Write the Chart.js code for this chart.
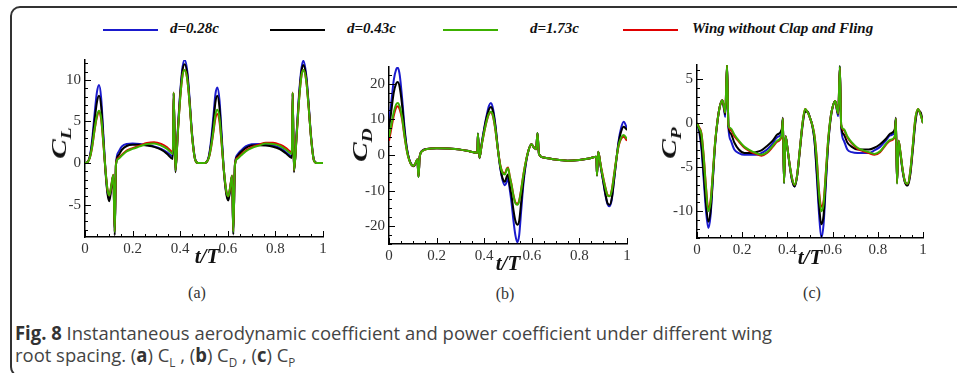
<!DOCTYPE html>
<html lang="en">
  <head>
    <meta charset="UTF-8" />
    <title>Fig. 8 CL CD CP</title>
    <script src="https://cdn.jsdelivr.net/npm/chart.js"></script>
    <style>
      body {
        margin: 0;
        background: #fff;
        width: 957px;
        height: 373px;
        overflow: hidden;
        position: relative;
        font-family: "Liberation Serif", serif;
      }
      .frame {
        position: absolute;
        left: 10px;
        top: 6px;
        width: 980px;
        height: 367px;
        border: 2px solid #333;
        border-radius: 10px;
      }
      .panel {
        position: absolute;
      }
      .leg-line {
        position: absolute;
        height: 2px;
        top: 29px;
      }
      .leg-text {
        position: absolute;
        top: 20px;
        font: italic bold 15px "Liberation Serif", serif;
        color: #111;
        white-space: nowrap;
      }
      .ytitle {
        position: absolute;
        font: italic bold 21px "Liberation Serif", serif;
        color: #111;
        white-space: nowrap;
        transform: translate(-50%, -50%) rotate(-90deg) scaleX(1.4);
      }
      .ytitle sub {
        font-size: 14px;
        vertical-align: -5px;
      }
      .xtitle {
        position: absolute;
        font: italic bold 21px "Liberation Serif", serif;
        color: #111;
        transform: translate(-50%, -50%);
        white-space: nowrap;
      }
      .sub-cap {
        position: absolute;
        font: 16px "Liberation Serif", serif;
        color: #333;
        transform: translate(-50%, -50%);
      }
      .caption {
        position: absolute;
        left: 15px;
        font: 19px "Open Sans", sans-serif;
        color: #444;
        white-space: nowrap;
        transform-origin: left center;
      }
      .caption b {
        color: #333;
      }
      .caption sub {
        font-size: 12px;
      }
    </style>
  </head>
  <body>
    <div class="frame"></div>

    <div class="leg-line" style="left: 103px; width: 55px; background: #1a1acd"></div>
    <div class="leg-text" style="left: 170px">d=0.28c</div>
    <div class="leg-line" style="left: 270px; width: 55px; background: #000"></div>
    <div class="leg-text" style="left: 347px">d=0.43c</div>
    <div class="leg-line" style="left: 443px; width: 55px; background: #3cb000"></div>
    <div class="leg-text" style="left: 530px">d=1.73c</div>
    <div class="leg-line" style="left: 623px; width: 55px; background: #e00000"></div>
    <div class="leg-text" style="left: 692px">Wing without Clap and Fling</div>

    <canvas id="chartL" class="panel" style="left: 30px; top: 50px" width="300" height="215"></canvas>
    <canvas id="chartD" class="panel" style="left: 334px; top: 57px" width="300" height="215"></canvas>
    <canvas id="chartP" class="panel" style="left: 642px; top: 55px" width="288" height="211"></canvas>

    <div class="ytitle" style="left: 61px; top: 143px">C<sub>L</sub></div>
    <div class="ytitle" style="left: 362px; top: 145px">C<sub>D</sub></div>
    <div class="ytitle" style="left: 671px; top: 143px">C<sub>P</sub></div>
    <div class="xtitle" style="left: 207px; top: 256px">t/T</div>
    <div class="xtitle" style="left: 508px; top: 263px">t/T</div>
    <div class="xtitle" style="left: 810px; top: 257px">t/T</div>
    <div class="sub-cap" style="left: 197px; top: 293px">(a)</div>
    <div class="sub-cap" style="left: 505px; top: 294px">(b)</div>
    <div class="sub-cap" style="left: 812px; top: 293px">(c)</div>

    <div class="caption" id="cap1" style="top: 320px">
      <b>Fig. 8</b> Instantaneous aerodynamic coefficient and power coefficient under different wing
    </div>
    <div class="caption" id="cap2" style="top: 342px">
      root spacing. (<b>a</b>) C<sub>L</sub> , (<b>b</b>) C<sub>D</sub> , (<b>c</b>) C<sub>P</sub>
    </div>

    <script>
      // ---- (a) lift coefficient ----
      const tL = [
        0, 0.01, 0.02, 0.03, 0.04, 0.05, 0.059, 0.068, 0.077, 0.086,
        0.095, 0.102, 0.11, 0.119, 0.125, 0.13, 0.14, 0.155, 0.175, 0.2,
        0.23, 0.26, 0.29, 0.32, 0.345, 0.369, 0.3725, 0.38, 0.39, 0.4,
        0.41, 0.419, 0.43, 0.44, 0.45, 0.462, 0.475, 0.5,
        0.51, 0.52, 0.53, 0.54, 0.548, 0.556, 0.565, 0.574, 0.584, 0.594,
        0.602, 0.61, 0.618, 0.623, 0.63, 0.64, 0.655, 0.675, 0.7, 0.73,
        0.76, 0.79, 0.82, 0.845, 0.869, 0.8725, 0.878, 0.89, 0.9, 0.91,
        0.918, 0.93, 0.94, 0.95, 0.962, 0.975, 1,
      ];
      const clBlue = [
        0, 0.1, 0.8, 2.8, 5.8, 8.5, 9.4, 7.8, 3.5, -0.8,
        -3.6, -4.3, -3.0, -1.5, -8.3, -0.2, 1.3, 2.0, 2.3, 2.35,
        2.3, 2.2, 2.0, 1.7, 1.3, 0.8, 8.4, -1.0, 4.0, 8.5,
        11.6, 12.4, 11.0, 7.5, 3.5, 0.6, 0, 0,
        0.1, 0.8, 2.8, 5.8, 8.3, 9.1, 7.6, 3.5, -1.0, -3.6,
        -4.4, -3.0, -1.6, -8.4, -0.2, 1.0, 1.5, 2.0, 2.25, 2.3,
        2.25, 2.1, 1.8, 1.3, 0.8, 8.4, -1.0, 4.0, 8.5, 11.5,
        12.3, 10.5, 7.0, 3.2, 0.4, 0, 0,
      ];
      const clBlack = [
        0, 0.1, 0.7, 2.4, 5.0, 7.3, 8.1, 6.8, 3.0, -1.0,
        -3.8, -4.6, -3.2, -1.5, -8.7, -0.3, 0.9, 1.6, 2.05, 2.2,
        2.2, 2.1, 1.95, 1.6, 1.1, 0.5, 8.3, -1.1, 3.8, 8.2,
        11.2, 11.9, 10.6, 7.2, 3.3, 0.5, 0, 0,
        0.1, 0.7, 2.4, 5.0, 7.3, 8.1, 6.7, 3.0, -1.2, -3.8,
        -4.5, -3.2, -1.6, -8.6, -0.3, 0.8, 1.3, 1.8, 2.1, 2.15,
        2.1, 1.95, 1.65, 1.15, 0.6, 8.3, -1.1, 3.8, 8.2, 11.1,
        11.8, 10.2, 6.8, 3.0, 0.3, 0, 0,
      ];
      const clGreen = [
        0, 0.1, 0.6, 2.0, 4.0, 5.7, 6.3, 5.4, 2.5, -0.8,
        -3.3, -3.9, -2.8, -1.4, -8.3, -0.2, 0.5, 0.9, 1.4, 1.7,
        2.0, 2.3, 2.35, 2.1, 1.7, 1.1, 8.5, -0.9, 3.6, 7.8,
        10.6, 11.2, 10.0, 7.0, 3.2, 0.5, 0, 0,
        0.1, 0.6, 2.0, 4.0, 5.8, 6.4, 5.4, 2.5, -1.0, -3.4,
        -4.0, -2.9, -1.5, -8.3, -0.2, 0.5, 0.9, 1.4, 1.8, 2.1,
        2.35, 2.3, 2.05, 1.6, 1.1, 8.5, -0.9, 3.6, 7.8, 10.6,
        11.2, 9.8, 6.6, 3.0, 0.3, 0, 0,
      ];
      const clRed = [
        0, 0.1, 0.6, 1.9, 3.9, 5.5, 6.1, 5.2, 2.4, -0.8,
        -3.3, -3.9, -2.8, -1.4, -8.2, -0.2, 0.6, 1.0, 1.5, 1.8,
        2.1, 2.4, 2.5, 2.3, 1.9, 1.3, 8.5, -0.9, 3.6, 7.8,
        10.6, 11.2, 10.0, 7.0, 3.2, 0.5, 0, 0,
        0.1, 0.6, 1.9, 3.8, 5.4, 5.9, 5.0, 2.3, -1.0, -3.4,
        -4.0, -2.9, -1.5, -8.2, -0.2, 0.6, 1.0, 1.5, 1.9, 2.2,
        2.45, 2.45, 2.2, 1.8, 1.3, 8.5, -0.9, 3.6, 7.8, 10.6,
        11.2, 9.8, 6.6, 3.0, 0.3, 0, 0,
      ];

      // ---- (b) drag coefficient ----
      const tD = [
        0, 0.01, 0.02, 0.03, 0.037, 0.045, 0.055, 0.065, 0.075, 0.085,
        0.095, 0.104, 0.112, 0.119, 0.124, 0.129, 0.14, 0.16, 0.2, 0.25,
        0.3, 0.34, 0.371, 0.3735, 0.38, 0.39, 0.4, 0.41, 0.42, 0.428,
        0.437, 0.447, 0.457, 0.467, 0.477, 0.487, 0.495, 0.5, 0.507, 0.515,
        0.523, 0.531, 0.539, 0.547, 0.555, 0.565, 0.575, 0.585, 0.598, 0.61,
        0.618, 0.624, 0.63, 0.65, 0.7, 0.75, 0.8, 0.84, 0.871, 0.874,
        0.879, 0.89, 0.9, 0.91, 0.918, 0.927, 0.936, 0.945, 0.955, 0.965,
        0.975, 0.986, 1,
      ];
      const cdBlue = [
        9, 15, 21, 24, 24.5, 22.5, 16, 8, 2, -1.2,
        -2.7, -3.1, -2.3, -1.3, -6.0, -0.5, 1.2, 1.7, 1.9, 1.8,
        1.5, 1.0, 0.6, 6.0, -0.9, 3.5, 7.5, 11.0, 13.8, 14.6,
        13.0, 8.5, 2.0, -3.5, -7.0, -8.5, -7.5, -6.5, -9.5, -13.5,
        -18.5, -22.5, -24.5, -22.5, -16, -8, -2.5, 1.0, 3.0, 2.0,
        1.6, 6.2, 0.3, -0.7, -1.3, -1.6, -1.4, -1.0, -0.5, -5.8,
        0.9, -3.5, -7.5, -11.5, -13.8, -14.4, -12.5, -7.5, -1.5, 4.0,
        7.5, 9.3, 7.5,
      ];
      const cdBlack = [
        7.5, 12.5, 17.5, 20.0, 20.5, 19.0, 14, 7, 1.8, -1.3,
        -2.8, -3.2, -2.3, -1.3, -6.2, -0.5, 1.2, 1.7, 1.9, 1.8,
        1.5, 1.0, 0.6, 6.0, -0.9, 3.3, 7.2, 10.5, 12.8, 13.5,
        12.2, 8.0, 2.0, -3.2, -6.5, -7.5, -6.0, -5.5, -8.5, -11.5,
        -15.5, -18.5, -19.6, -18.5, -13.5, -7, -2.2, 1.0, 3.0, 2.0,
        1.6, 6.2, 0.3, -0.7, -1.3, -1.6, -1.4, -1.0, -0.5, -5.8,
        0.9, -3.5, -7.3, -11.2, -13.5, -14.0, -12.2, -7.3, -1.5, 3.5,
        6.5, 7.9, 7.0,
      ];
      const cdGreen = [
        5.0, 8.5, 12.0, 14.2, 14.6, 13.6, 10.5, 5.5, 1.2, -1.5,
        -2.8, -3.0, -2.2, -1.2, -6.2, -0.5, 1.1, 1.7, 1.9, 1.8,
        1.5, 1.0, 0.6, 6.0, -0.8, 3.0, 6.5, 9.5, 11.6, 12.1,
        11.0, 7.2, 1.8, -2.8, -5.0, -5.5, -4.0, -3.7, -6.0, -8.5,
        -11.5, -13.5, -14.0, -13.0, -10.0, -5.5, -1.8, 1.0, 3.0, 2.0,
        1.6, 6.2, 0.3, -0.7, -1.3, -1.6, -1.4, -1.0, -0.5, -5.8,
        0.9, -3.2, -6.5, -9.5, -11.3, -11.6, -10.0, -6.0, -1.2, 2.8,
        4.8, 5.6, 4.5,
      ];
      const cdRed = [
        4.0, 7.5, 11.0, 13.3, 13.7, 12.8, 10.0, 5.2, 1.2, -1.5,
        -2.8, -3.0, -2.2, -1.2, -6.0, -0.5, 1.1, 1.7, 1.9, 1.8,
        1.5, 1.0, 0.6, 5.8, -0.8, 3.0, 6.4, 9.4, 11.5, 12.0,
        10.8, 7.0, 1.8, -2.6, -4.8, -5.2, -3.8, -3.5, -5.8, -8.3,
        -11.3, -13.3, -13.7, -12.8, -9.8, -5.3, -1.8, 1.0, 3.0, 2.0,
        1.6, 6.0, 0.3, -0.7, -1.3, -1.6, -1.4, -1.0, -0.5, -5.6,
        0.9, -3.0, -6.3, -9.3, -11.2, -11.5, -9.8, -5.8, -1.2, 2.6,
        4.5, 5.1, 4.0,
      ];

      // ---- (c) power coefficient ----
      const tP = [
        0, 0.01, 0.02, 0.03, 0.04, 0.05, 0.06, 0.07, 0.08, 0.092,
        0.102, 0.112, 0.12, 0.125, 0.133, 0.139, 0.15, 0.165, 0.185, 0.21,
        0.235, 0.26, 0.285, 0.31, 0.335, 0.355, 0.375, 0.38, 0.385, 0.392,
        0.4, 0.41, 0.42, 0.432, 0.443, 0.455, 0.466, 0.478, 0.49, 0.5,
        0.51, 0.52, 0.53, 0.54, 0.55, 0.56, 0.57, 0.58, 0.592, 0.602,
        0.612, 0.62, 0.625, 0.632, 0.638, 0.65, 0.665, 0.685, 0.71, 0.735,
        0.76, 0.785, 0.81, 0.835, 0.855, 0.875, 0.88, 0.885, 0.892, 0.9,
        0.91, 0.92, 0.932, 0.943, 0.955, 0.966, 0.978, 0.99, 1,
      ];
      const cpBlue = [
        0, -1.0, -3.0, -6.5, -10.0, -11.9, -10.5, -6.5, -2.5, 0.5,
        2.0, 2.6, 1.5, 0.7, 6.6, -0.5, -2.0, -3.0, -3.4, -3.6,
        -3.6, -3.6, -3.4, -3.0, -2.3, -1.6, -1.0, 0.5, -6.8, -1.5,
        -2.8, -4.8, -6.4, -7.2, -6.0, -3.0, -0.3, 1.4, 1.3, 0.6,
        -0.2, -2.0, -6.0, -10.3, -13.0, -11.5, -7.0, -2.5, 0.8, 2.0,
        2.5, 1.3, 0.8, 6.4, -0.5, -2.0, -3.0, -3.3, -3.4, -3.4,
        -3.4, -3.1, -2.7, -2.0, -1.4, -1.0, 0.5, -6.8, -2.3, -3.5,
        -5.5, -6.7, -7.0, -5.8, -2.8, 0.2, 1.5, 1.0, 0,
      ];
      const cpBlack = [
        0, -0.8, -2.6, -5.8, -9.2, -11.2, -10.0, -6.3, -2.4, 0.5,
        2.0, 2.6, 1.6, 1.0, 6.8, -0.3, -1.2, -2.2, -3.0, -3.4,
        -3.4, -3.3, -3.1, -2.6, -2.0, -1.3, -0.7, 0.6, -6.8, -1.5,
        -2.8, -4.8, -6.4, -7.2, -6.0, -3.2, -0.5, 1.3, 1.3, 0.6,
        -0.3, -2.0, -5.5, -9.3, -11.5, -10.5, -6.5, -2.5, 0.6, 2.0,
        2.5, 1.4, 1.0, 6.5, -0.3, -1.3, -2.2, -2.7, -3.0, -3.0,
        -3.0, -2.8, -2.4, -1.8, -1.2, -0.7, 0.6, -6.8, -2.0, -3.4,
        -5.4, -6.7, -7.1, -6.0, -3.0, 0.0, 1.4, 1.2, 0,
      ];
      const cpGreen = [
        0, -0.6, -1.3, -4.0, -7.5, -10.0, -9.0, -5.8, -2.2, 0.5,
        2.0, 2.6, 1.8, 1.2, 6.7, -0.2, -0.6, -1.3, -2.0, -2.7,
        -3.1, -3.4, -3.6, -3.3, -2.6, -2.0, -1.3, 0.5, -6.8, -1.5,
        -2.8, -4.7, -6.2, -7.0, -5.9, -3.0, -0.2, 1.6, 1.2, 0.6,
        -0.2, -1.5, -4.2, -8.0, -10.0, -9.2, -5.8, -2.0, 0.8, 2.0,
        2.5, 1.5, 1.1, 6.4, -0.2, -0.7, -1.5, -2.2, -2.8, -3.1,
        -3.3, -3.5, -3.2, -2.4, -1.9, -1.5, 0.5, -6.9, -2.0, -3.3,
        -5.3, -6.6, -6.9, -5.6, -2.5, 0.5, 1.6, 0.9, 0,
      ];
      const cpRed = [
        0, -0.5, -1.2, -3.8, -7.3, -9.7, -8.8, -5.7, -2.2, 0.5,
        2.0, 2.6, 1.8, 1.2, 6.6, -0.2, -0.8, -1.5, -2.1, -2.8,
        -3.2, -3.5, -3.7, -3.4, -2.7, -2.1, -1.5, 0.5, -6.7, -1.5,
        -2.8, -4.7, -6.2, -7.0, -5.9, -3.0, -0.2, 1.6, 1.2, 0.6,
        -0.2, -1.4, -4.0, -7.7, -9.5, -8.9, -5.6, -2.0, 0.8, 2.0,
        2.5, 1.5, 1.1, 6.3, -0.2, -0.8, -1.6, -2.3, -2.9, -3.2,
        -3.4, -3.6, -3.3, -2.5, -2.0, -1.6, 0.5, -6.8, -2.0, -3.3,
        -5.3, -6.6, -6.9, -5.6, -2.5, 0.5, 1.6, 0.9, 0,
      ];

      const seriesColors = {
        blue: "#1a1acd",
        black: "#000000",
        green: "#3cb000",
        red: "#e00000",
      };

      function pts(t, v) {
        return t.map((x, i) => ({ x: x, y: v[i] }));
      }

      function makeSet(label, color, t, v) {
        return {
          label: label,
          data: pts(t, v),
          borderColor: color,
          backgroundColor: color,
          borderWidth: 2,
          pointRadius: 0,
          cubicInterpolationMode: "monotone",
          fill: false,
        };
      }

      // inward major/minor ticks like the original tecplot axes
      const inTicks = {
        id: "inTicks",
        afterDraw(chart, args, opts) {
          const { ctx, chartArea } = chart;
          const sx = chart.scales.x;
          const sy = chart.scales.y;
          ctx.save();
          ctx.strokeStyle = "#000";
          ctx.lineWidth = 1;
          ctx.beginPath();
          for (let i = 0; i <= 20; i++) {
            const v = i * 0.05;
            const px = Math.round(sx.getPixelForValue(v)) + 0.5;
            const len = i % 4 === 0 ? 6 : 3;
            ctx.moveTo(px, chartArea.bottom);
            ctx.lineTo(px, chartArea.bottom - len);
          }
          const k0 = Math.ceil(sy.min / opts.minor - 1e-6);
          const k1 = Math.floor(sy.max / opts.minor + 1e-6);
          for (let k = k0; k <= k1; k++) {
            const v = k * opts.minor;
            const py = Math.round(sy.getPixelForValue(v)) + 0.5;
            const isMajor = Math.abs(v / opts.major - Math.round(v / opts.major)) < 1e-6;
            ctx.moveTo(chartArea.left, py);
            ctx.lineTo(chartArea.left + (isMajor ? 6 : 3), py);
          }
          ctx.stroke();
          ctx.restore();
        },
      };

      function makeChart(id, t, b, k, g, r, yMin, yMax, major, minor) {
        const ctx = document.getElementById(id).getContext("2d");
        return new Chart(ctx, {
          type: "line",
          data: {
            datasets: [
              makeSet("d=1.73c", seriesColors.green, t, g),
              makeSet("Wing without Clap and Fling", seriesColors.red, t, r),
              makeSet("d=0.43c", seriesColors.black, t, k),
              makeSet("d=0.28c", seriesColors.blue, t, b),
            ],
          },
          options: {
            responsive: false,
            animation: false,
            layout: { padding: { top: 10, right: 7, left: 0, bottom: 0 } },
            plugins: {
              legend: { display: false },
              tooltip: { enabled: false },
              inTicks: { major: major, minor: minor },
            },
            scales: {
              x: {
                type: "linear",
                min: 0,
                max: 1,
                grid: { display: false, drawTicks: false },
                border: { display: true, color: "#000", width: 1.5 },
                ticks: {
                  stepSize: 0.2,
                  padding: 3,
                  maxRotation: 0,
                  color: "#333",
                  font: { family: "Liberation Serif", size: 15 },
                  callback: (v) => (v === 0 ? "0" : v === 1 ? "1" : v.toFixed(1)),
                },
                afterFit(s) {
                  s.height = 28;
                  s.paddingLeft = 0;
                  s.paddingRight = 0;
                },
              },
              y: {
                min: yMin,
                max: yMax,
                grid: { display: false, drawTicks: false },
                border: { display: true, color: "#000", width: 1.5 },
                ticks: {
                  stepSize: major,
                  includeBounds: false,
                  padding: 4,
                  color: "#333",
                  font: { family: "Liberation Serif", size: 15 },
                },
                afterFit(s) {
                  s.width = 55;
                  s.paddingTop = 0;
                  s.paddingBottom = 0;
                },
              },
            },
          },
          plugins: [inTicks],
        });
      }

      makeChart("chartL", tL, clBlue, clBlack, clGreen, clRed, -8.9, 12.4, 5, 1);
      makeChart("chartD", tD, cdBlue, cdBlack, cdGreen, cdRed, -25, 24.7, 10, 2.5);
      makeChart("chartP", tP, cpBlue, cpBlack, cpGreen, cpRed, -13.05, 6.6, 5, 1);

      // squeeze the caption to the condensed width of the original
      const cap1 = document.getElementById("cap1");
      const cap2 = document.getElementById("cap2");
      const w = cap1.getBoundingClientRect().width;
      const f = 757 / w;
      cap1.style.transform = "scaleX(" + f + ")";
      cap2.style.transform = "scaleX(" + f + ")";
    </script>
  </body>
</html>
